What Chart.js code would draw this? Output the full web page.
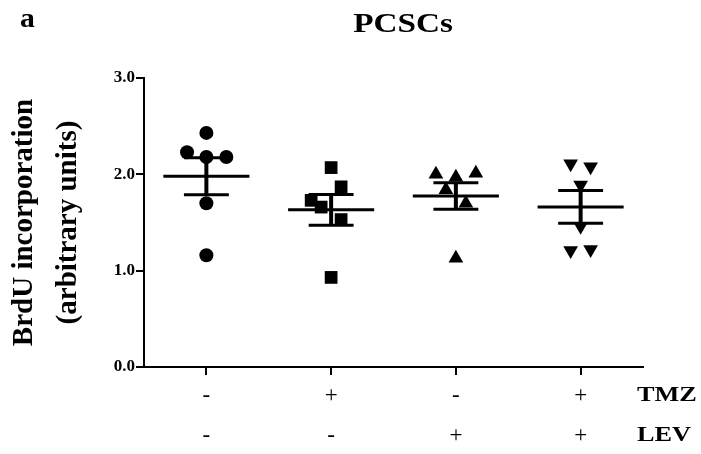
<!DOCTYPE html>
<html>
<head>
<meta charset="utf-8">
<script src="https://cdn.jsdelivr.net/npm/chart.js@4"></script>
<style>
  html, body { margin: 0; padding: 0; background: #fff; }
  #wrap { width: 701px; height: 454px; }
</style>
</head>
<body>
<div id="wrap"><canvas id="brduChart" width="701" height="454"></canvas></div>
<script>
// Données
const GROUPS = ["ctrl", "TMZ", "LEV", "TMZ+LEV"];
const TMZ_SIGNS = ["-", "+", "-", "+"];
const LEV_SIGNS = ["-", "-", "+", "+"];
const ROW_LABELS = ["TMZ", "LEV"];
const Y_TICKS = [0, 1, 2, 3];

const ctrlValues = [2.43, 2.23, 2.18, 2.18, 1.70, 1.16];
const tmzValues = [2.07, 1.87, 1.73, 1.66, 1.53, 0.93];
const levValues = [2.00, 2.01, 1.97, 1.84, 1.70, 1.13];
const tmzLevValues = [2.11, 2.08, 1.89, 1.46, 1.21, 1.22];

// décalage horizontal des points (en unités de catégorie)
const ctrlSpread = [0, -0.155, 0, 0.16, 0, 0];
const tmzSpread = [0, 0.08, -0.16, -0.08, 0.08, 0];
const levSpread = [-0.16, 0.16, 0, -0.08, 0.08, 0];
const tmzLevSpread = [-0.08, 0.08, 0, 0, -0.08, 0.08];

const SERIF = "'Liberation Serif', 'Times New Roman', serif";

const allValues = [ctrlValues, tmzValues, levValues, tmzLevValues];
const allSpread = [ctrlSpread, tmzSpread, levSpread, tmzLevSpread];
const styles = [
  { pointStyle: 'circle', radius: 7, rotation: 0 },
  { pointStyle: 'rect', radius: 9, rotation: 0 },
  { pointStyle: 'triangle', radius: 8.5, rotation: 0 },
  { pointStyle: 'triangle', radius: 8.5, rotation: 180 }
];

function mean(arr) {
  return arr.reduce((a, b) => a + b, 0) / arr.length;
}
function sem(arr) {
  const m = mean(arr);
  const v = arr.reduce((a, b) => a + (b - m) * (b - m), 0) / (arr.length - 1);
  return Math.sqrt(v / arr.length);
}

const datasets = allValues.map((vals, i) => ({
  label: GROUPS[i],
  data: vals.map((v, j) => ({ x: i + 1 + allSpread[i][j], y: v })),
  backgroundColor: '#000',
  borderColor: '#000',
  borderWidth: 0,
  pointStyle: styles[i].pointStyle,
  pointRadius: styles[i].radius,
  pointRotation: styles[i].rotation,
  pointHoverRadius: styles[i].radius
}));

// Moyenne + SEM
const meanSemPlugin = {
  id: 'meanSem',
  afterDatasetsDraw(chart) {
    const { ctx, scales: { x, y } } = chart;
    ctx.save();
    ctx.strokeStyle = '#000';
    ctx.lineCap = 'butt';
    allValues.forEach((vals, i) => {
      const m = mean(vals);
      const s = sem(vals);
      const cx = x.getPixelForValue(i + 1);
      const halfMean = x.getPixelForValue(i + 1.345) - cx;
      const halfCap = x.getPixelForValue(i + 1.18) - cx;
      const yM = y.getPixelForValue(m);
      const yHi = y.getPixelForValue(m + s);
      const yLo = y.getPixelForValue(m - s);

      ctx.lineWidth = 3;
      ctx.beginPath();
      ctx.moveTo(cx - halfMean, yM); ctx.lineTo(cx + halfMean, yM);
      ctx.moveTo(cx - halfCap, yHi); ctx.lineTo(cx + halfCap, yHi);
      ctx.moveTo(cx - halfCap, yLo); ctx.lineTo(cx + halfCap, yLo);
      ctx.stroke();

      ctx.lineWidth = 4;
      ctx.beginPath();
      ctx.moveTo(cx, yHi); ctx.lineTo(cx, yLo);
      ctx.stroke();
    });
    ctx.restore();
  }
};

// Textes : "a", titre, TMZ / LEV
function stretchedText(ctx, text, px, py, sx, align) {
  ctx.save();
  ctx.translate(px, py);
  ctx.scale(sx, 1);
  ctx.textAlign = align;
  ctx.fillText(text, 0, 0);
  ctx.restore();
}

const labelsPlugin = {
  id: 'labels',
  afterDraw(chart) {
    const { ctx, chartArea } = chart;
    ctx.save();
    ctx.fillStyle = '#000';
    ctx.textBaseline = 'alphabetic';

    ctx.font = `bold 27px ${SERIF}`;
    stretchedText(ctx, 'a', 20, 27, 1.1, 'left');

    ctx.font = `bold 27px ${SERIF}`;
    stretchedText(ctx, 'PCSCs', 403, 32, 1.23, 'center');

    ctx.font = `bold 21px ${SERIF}`;
    stretchedText(ctx, ROW_LABELS[0], chartArea.right - 6, chartArea.bottom + 34, 1.25, 'left');
    stretchedText(ctx, ROW_LABELS[1], chartArea.right - 6, chartArea.bottom + 74, 1.25, 'left');
    ctx.restore();
  }
};

const ctx = document.getElementById('brduChart').getContext('2d');

new Chart(ctx, {
  type: 'scatter',
  data: { datasets },
  options: {
    responsive: false,
    animation: false,
    events: [],
    layout: { padding: { left: 0, right: 58, top: 78, bottom: 0 } },
    plugins: {
      legend: { display: false },
      tooltip: { enabled: false }
    },
    scales: {
      x: {
        type: 'linear',
        min: 0.5,
        max: 4.5,
        afterBuildTicks: (scale) => {
          scale.ticks = GROUPS.map((g, i) => ({ value: i + 1 }));
        },
        afterFit: (scale) => { scale.height = 87; },
        border: { display: true, color: '#000', width: 2 },
        grid: { display: true, drawOnChartArea: false, drawTicks: true, tickLength: 8, color: '#000', lineWidth: 2 },
        ticks: {
          autoSkip: false,
          maxRotation: 0,
          padding: 1,
          color: '#000',
          font: { family: SERIF, size: 23, lineHeight: 1.74 },
          callback: (value, index) => [TMZ_SIGNS[index], LEV_SIGNS[index]]
        }
      },
      y: {
        min: 0,
        max: 3,
        afterBuildTicks: (scale) => {
          scale.ticks = Y_TICKS.map(v => ({ value: v }));
        },
        afterFit: (scale) => { scale.width = 144; },
        border: { display: true, color: '#000', width: 2 },
        grid: { display: true, drawOnChartArea: false, drawTicks: true, tickLength: 8, color: '#000', lineWidth: 2 },
        ticks: {
          padding: 1,
          color: '#000',
          font: { family: SERIF, size: 17, weight: 'bold' },
          callback: (v) => v.toFixed(1)
        },
        title: {
          display: true,
          text: ['BrdU incorporation', '(arbitrary units)'],
          color: '#000',
          font: { family: SERIF, size: 29, weight: 'bold', lineHeight: 1.5 },
          padding: { top: 3, bottom: 0 }
        }
      }
    }
  },
  plugins: [meanSemPlugin, labelsPlugin]
});
</script>
</body>
</html>
